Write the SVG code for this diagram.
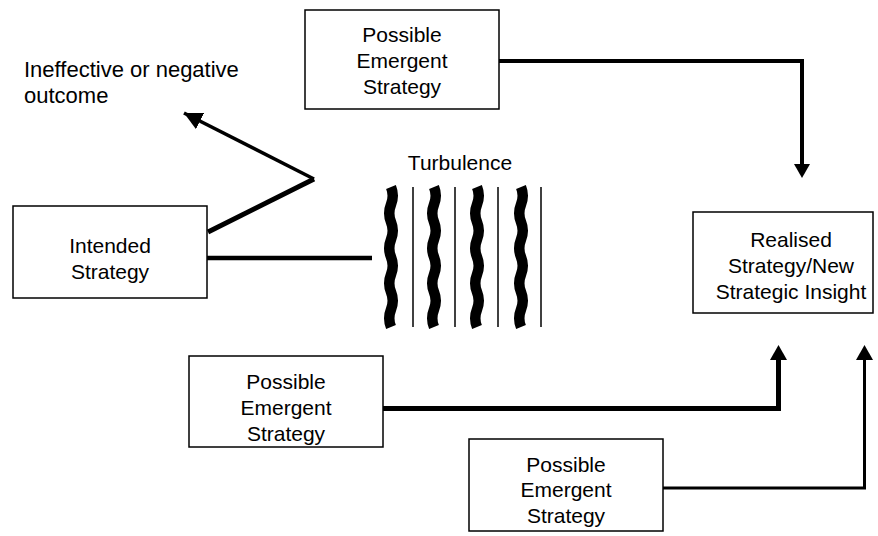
<svg xmlns="http://www.w3.org/2000/svg" width="878" height="536" viewBox="0 0 878 536">
<defs>
<style>
.box{fill:#fff;stroke:#000;stroke-width:1.5}
.t{font-family:"Liberation Sans",Arial,sans-serif;font-size:21px;fill:#000;text-anchor:middle}
.c{fill:none;stroke:#000;stroke-linecap:butt;stroke-linejoin:miter}
.wave{fill:none;stroke:#000;stroke-width:10.5}
.thin{stroke:#000;stroke-width:1.5}
</style>
<marker id="ah" viewBox="0 0 10 10" refX="10" refY="5" markerWidth="18" markerHeight="18" markerUnits="userSpaceOnUse" orient="auto">
<path d="M0,0 L10,5 L0,10 z" fill="#000"/>
</marker>
<path id="wv" d="M0,187 q3.5,8.75 0,17.5 t0,17.5 t0,17.5 t0,17.5 t0,17.5 t0,17.5 t0,17.5 t0,17.5"/>
</defs>
<g id="connectors">
<polyline class="c" stroke-width="4" points="499,61 802,61 802,164"/>
<path d="M794,164 L810,164 L802,178 z" fill="#000"/>
<polyline class="c" stroke-width="5" points="383,408.5 778.5,408.5 778.5,360"/>
<path d="M770,360 L787,360 L778.5,345 z" fill="#000"/>
<polyline class="c" stroke-width="3" points="663,488 864.5,488 864.5,360"/>
<path d="M856,360 L873,360 L864.5,345 z" fill="#000"/>
<line class="c" stroke-width="4.5" x1="207" y1="258" x2="372" y2="258"/>
<line class="c" stroke-width="5" x1="208" y1="232" x2="314" y2="179"/>
<line class="c" stroke-width="3.5" x1="314" y1="179" x2="184" y2="113" marker-end="url(#ah)"/>
</g>
<g id="turbulence">
<use href="#wv" class="wave" x="391"/>
<use href="#wv" class="wave" x="434"/>
<use href="#wv" class="wave" x="477"/>
<use href="#wv" class="wave" x="521"/>
<line class="thin" x1="413" y1="187" x2="413" y2="327"/>
<line class="thin" x1="455" y1="187" x2="455" y2="327"/>
<line class="thin" x1="498" y1="187" x2="498" y2="327"/>
<line class="thin" x1="541" y1="187" x2="541" y2="327"/>
<text class="t" x="460" y="170">Turbulence</text>
</g>
<g id="outcome">
<text class="t" style="text-anchor:start;font-size:22px" x="24" y="77">Ineffective or negative</text>
<text class="t" style="text-anchor:start;font-size:22px" x="24" y="103">outcome</text>
</g>
<g id="intended">
<rect class="box" x="13" y="206" width="194" height="92"/>
<text class="t" x="110" y="253">Intended</text>
<text class="t" x="110" y="279">Strategy</text>
</g>
<g id="emergent-top">
<rect class="box" x="305" y="10" width="194" height="99"/>
<text class="t" x="402" y="42">Possible</text>
<text class="t" x="402" y="68">Emergent</text>
<text class="t" x="402" y="94">Strategy</text>
</g>
<g id="emergent-mid">
<rect class="box" x="189" y="356" width="194" height="91"/>
<text class="t" x="286" y="389">Possible</text>
<text class="t" x="286" y="415">Emergent</text>
<text class="t" x="286" y="441">Strategy</text>
</g>
<g id="emergent-bottom">
<rect class="box" x="469" y="439" width="194" height="92"/>
<text class="t" x="566" y="472">Possible</text>
<text class="t" x="566" y="497">Emergent</text>
<text class="t" x="566" y="523">Strategy</text>
</g>
<g id="realised">
<rect class="box" x="693" y="212" width="180" height="101"/>
<text class="t" x="791" y="247">Realised</text>
<text class="t" x="791" y="273">Strategy/New</text>
<text class="t" x="791" y="299">Strategic Insight</text>
</g>
</svg>
